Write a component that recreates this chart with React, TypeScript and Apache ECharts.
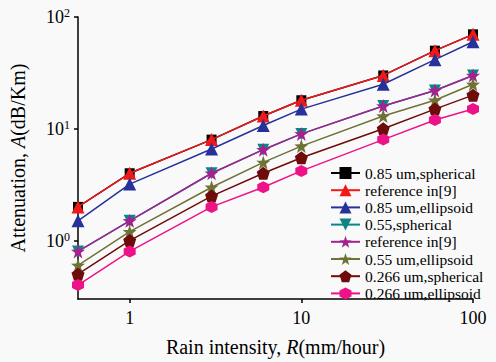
import React, { useEffect, useRef } from "react";
import * as echarts from "echarts";

const rainIntensity = [0.5, 1, 3, 6, 10, 30, 60, 100];
const s085Spherical = [2, 4, 8, 13, 18, 30, 50, 70];
const ref9High = [2, 4, 8, 13, 18, 30, 50, 70];
const s085Ellipsoid = [1.5, 3.2, 6.6, 10.7, 15, 25, 41.5, 60];
const s055Spherical = [0.8, 1.5, 4, 6.5, 9, 16, 22, 30];
const ref9Low = [0.8, 1.5, 4, 6.5, 9, 16, 22, 30];
const s055Ellipsoid = [0.6, 1.2, 3, 5, 7, 13, 18, 25];
const s0266Spherical = [0.5, 1, 2.5, 4, 5.5, 10, 15, 20];
const s0266Ellipsoid = [0.4, 0.8, 2, 3, 4.2, 8, 12, 15];

const legendLabels = [
  "0.85 um,spherical",
  "reference in[9]",
  "0.85 um,ellipsoid",
  "0.55,spherical",
  "reference in[9]",
  "0.55 um,ellipsoid",
  "0.266 um,spherical",
  "0.266 um,ellipsoid",
];

const FONT = "'Liberation Serif', 'Times New Roman', serif";

const STAR =
  "path://M0,-10 L2.35,-3.24 L9.51,-3.09 L3.8,1.24 L5.88,8.09 L0,4 L-5.88,8.09 L-3.8,1.24 L-9.51,-3.09 L-2.35,-3.24 Z";
const PENTAGON = "path://M0,-10 L9.51,-3.09 L5.88,8.09 L-5.88,8.09 L-9.51,-3.09 Z";
const HEXAGON = "path://M0,-10 L8.66,-5 L8.66,5 L0,10 L-8.66,5 L-8.66,-5 Z";
const DOWN_TRI = "path://M-10,-8 L10,-8 L0,9 Z";

export default function App() {
  const ref = useRef<HTMLDivElement>(null);
  useEffect(() => {
    if (!ref.current) return;
    const chart = echarts.init(ref.current, undefined, { renderer: "svg" });
    const defs = [
      { values: s085Spherical, color: "#000000", symbol: "rect", size: 10 },
      { values: ref9High, color: "#f01818", symbol: "triangle", size: 13 },
      { values: s085Ellipsoid, color: "#26329a", symbol: "triangle", size: 13 },
      { values: s055Spherical, color: "#0e8585", symbol: DOWN_TRI, size: 12 },
      { values: ref9Low, color: "#a3228f", symbol: STAR, size: 14 },
      { values: s055Ellipsoid, color: "#6e7335", symbol: STAR, size: 14 },
      { values: s0266Spherical, color: "#6e0c0c", symbol: PENTAGON, size: 13 },
      { values: s0266Ellipsoid, color: "#ee1288", symbol: HEXAGON, size: 12 },
    ];
    const ids = defs.map((_, i) => "s" + i);
    const nameMap: Record<string, string> = {};
    ids.forEach((id, i) => (nameMap[id] = legendLabels[i]));

    const powLabel = (v: number) => {
      const l = Math.log10(v);
      const e = Math.round(l);
      if (Math.abs(l - e) > 1e-6) return "";
      return `{b|10}{s|${e}}`;
    };
    const xLabel = (v: number) => {
      const l = Math.log10(v);
      const e = Math.round(l);
      if (Math.abs(l - e) > 1e-6) return "";
      return String(Math.round(v));
    };

    chart.setOption({
      animation: false,
      backgroundColor: "#f9f9f9",
      grid: { left: 76, right: 23, top: 17, bottom: 60 },
      legend: {
        orient: "vertical",
        left: 325,
        top: 160,
        padding: 5,
        itemWidth: 29,
        itemHeight: 15,
        itemGap: 1.2,
        data: ids,
        formatter: (n: string) => nameMap[n],
        textStyle: { fontFamily: FONT, fontSize: 15.5, color: "#000", lineHeight: 16 },
      },
      xAxis: {
        type: "log",
        logBase: 10,
        min: 0.5,
        max: 100,
        name: "Rain intensity, {i|R}(mm/hour)",
        nameLocation: "middle",
        nameGap: 38,
        nameTextStyle: {
          fontFamily: FONT,
          fontSize: 20,
          color: "#000",
          rich: { i: { fontFamily: FONT, fontSize: 20, fontStyle: "italic", color: "#000" } },
        },
        axisLine: { lineStyle: { color: "#000", width: 1.5 } },
        axisTick: { show: true, length: 4, lineStyle: { color: "#000", width: 1.5 } },
        axisLabel: {
          formatter: xLabel,
          margin: 10,
          fontFamily: FONT,
          fontSize: 18,
          color: "#000",
          showMinLabel: false,
        },
        splitLine: { show: false },
        minorTick: { show: false },
      },
      yAxis: {
        type: "log",
        logBase: 10,
        min: 0.3,
        max: 100,
        name: "Attenuation, {i|A}(dB/Km)",
        nameLocation: "middle",
        nameGap: 50,
        nameRotate: 90,
        nameTextStyle: {
          fontFamily: FONT,
          fontSize: 20,
          color: "#000",
          rich: { i: { fontFamily: FONT, fontSize: 20, fontStyle: "italic", color: "#000" } },
        },
        axisLine: { show: true, lineStyle: { color: "#000", width: 1.5 } },
        axisTick: { show: true, length: 4, lineStyle: { color: "#000", width: 1.5 } },
        axisLabel: {
          formatter: powLabel,
          margin: 8,
          showMinLabel: false,
          rich: {
            b: { fontFamily: FONT, fontSize: 18, color: "#000", lineHeight: 20 },
            s: { fontFamily: FONT, fontSize: 12, color: "#000", verticalAlign: "top", lineHeight: 12 },
          },
        },
        splitLine: { show: false },
      },
      series: defs.map((d, i) => ({
        id: ids[i],
        name: ids[i],
        type: "line",
        data: rainIntensity.map((x, j) => [x, d.values[j]]),
        symbol: d.symbol,
        symbolSize: d.size,
        showAllSymbol: true,
        lineStyle: { color: d.color, width: 1.5 },
        itemStyle: { color: d.color },
        z: 2 + i,
      })),
    });
    return () => chart.dispose();
  }, []);
  return (
    <div
      ref={ref}
      style={{ position: "fixed", left: 0, top: 0, width: 496, height: 362 }}
    />
  );
}
